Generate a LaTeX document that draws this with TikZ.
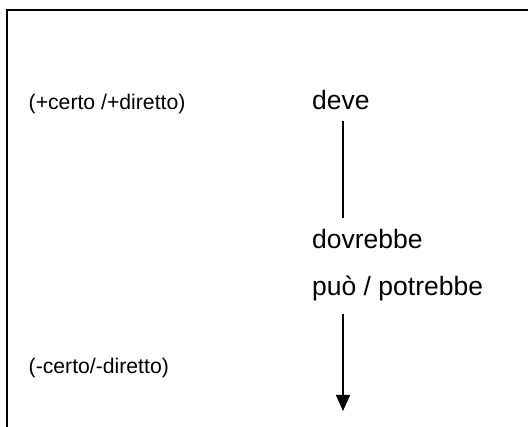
\documentclass[tikz,border=0pt]{standalone}
\usepackage{fontspec}
\setmainfont{Liberation Sans}
\usetikzlibrary{arrows.meta}

\begin{document}
\begin{tikzpicture}[
    x=1pt, y=-1pt,
    pole/.style={inner sep=0pt, anchor=base west, font=\fontsize{21.2}{25}\selectfont},
    modal/.style={inner sep=0pt, anchor=base west, font=\fontsize{26.5}{31}\selectfont},
    link/.style={line width=1.3pt},
    arrow/.style={line width=1.3pt, -{Triangle[width=14pt, length=16pt]}}
]
    \useasboundingbox (0,0) rectangle (528,427);
    \clip (0,0) rectangle (528,427);
    \draw[line width=2pt] (7,10) rectangle (560,460);

    \node[pole] (strong) at (28.5,110) {(+certo /+diretto)};
    \node[pole] (weakpole) at (28.5,374) {(-certo/-diretto)};

    \node[modal] (deve) at (312,110) {deve};
    \node[modal] (dovrebbe) at (312,249) {dovrebbe};
    \node[modal] (puo) at (312,296) {può / potrebbe};

    \coordinate (axis) at (343,0);
    \coordinate (tip) at (343,411);

    \draw[link, shorten <=10.5pt, shorten >=12pt] (deve.south -| axis) -- (dovrebbe.north -| axis);
    \draw[arrow, shorten <=12.4pt] (puo.south -| axis) -- (tip);
\end{tikzpicture}
\end{document}
